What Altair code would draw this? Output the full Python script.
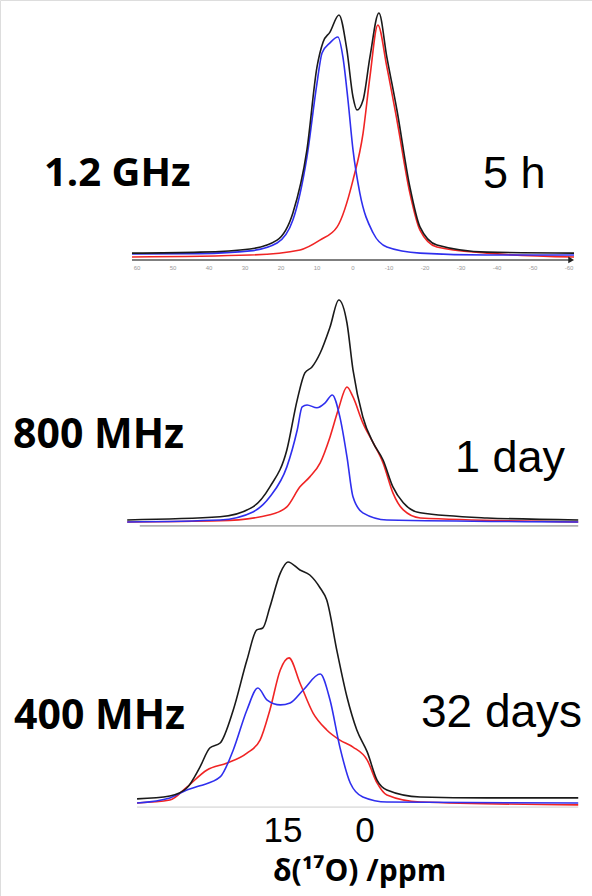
import altair as alt
import pandas as pd

# ---------------- data (ppm, relative intensity) ----------------
# Top panel (1.2 GHz, 5 h) - its own ppm axis
top_black_ppm = [61.4, 42.5, 28.6, 21.1, 16.7, 12.8, 10.0, 8.3, 6.4, 3.9, 1.7, 0.0, -1.1, -2.8, -4.7, -7.2, -9.4, -12.2, -15.8, -18.6, -23.3, -37.2, -61.4]
top_black_int = [2.0, 2.4, 3.7, 7.3, 18.4, 44.1, 78.0, 88.2, 92.2, 99.2, 84.9, 65.7, 60.4, 64.5, 82.0, 100.0, 82.0, 60.4, 29.0, 12.7, 5.3, 2.4, 2.0]
top_blue_ppm = [61.4, 42.5, 28.6, 21.1, 16.7, 12.8, 10.0, 8.6, 6.4, 4.2, 2.8, 1.4, 0.0, -1.9, -5.6, -9.4, -18.6, -37.2, -61.4]
top_blue_int = [1.6, 1.8, 2.9, 6.1, 15.5, 41.2, 71.4, 83.7, 87.8, 90.2, 82.0, 64.5, 44.1, 26.5, 10.2, 4.5, 2.0, 1.2, 1.2]
top_red_ppm = [61.4, 28.6, 14.7, 9.2, 4.4, 0.0, -2.8, -4.7, -6.9, -9.4, -12.2, -15.8, -18.6, -23.3, -37.2, -61.4]
top_red_int = [0.4, 1.2, 3.3, 7.3, 12.7, 31.8, 51.0, 73.9, 95.1, 78.0, 56.3, 26.5, 11.4, 4.5, 2.0, 0.4]
top_tick_ppm = [60, 50, 40, 30, 20, 10, 0, -10, -20, -30, -40, -50, -60]

# Middle panel (800 MHz, 1 day)
mid_black_ppm = [43.5, 26.5, 20.5, 17.4, 14.3, 12.4, 11.0, 9.7, 8.2, 6.4, 4.8, 3.3, 2.2, 0.4, -1.5, -3.3, -5.1, -7.0, -10.1, -22.3, -39.0]
mid_black_int = [0.9, 2.3, 6.8, 15.8, 32.4, 55.0, 67.1, 69.8, 76.1, 87.8, 100.0, 89.6, 68.5, 47.3, 35.6, 27.9, 15.8, 8.6, 4.1, 1.8, 0.9]
mid_blue_ppm = [43.5, 26.5, 20.5, 17.4, 14.3, 12.4, 11.5, 10.6, 8.8, 7.3, 6.0, 4.6, 3.3, 2.2, 0.4, -4.0, -39.0]
mid_blue_int = [0.0, 0.9, 4.5, 11.3, 24.8, 41.4, 51.8, 52.7, 51.4, 53.6, 57.2, 47.3, 29.3, 11.3, 4.1, 0.9, 0.0]
mid_red_ppm = [43.5, 26.5, 17.4, 14.3, 11.9, 10.1, 8.2, 6.4, 4.9, 3.3, 2.2, 0.4, -1.5, -3.3, -5.1, -7.0, -10.1, -39.0]
mid_red_int = [0.0, 0.5, 3.2, 6.8, 15.8, 20.3, 26.6, 38.3, 50.5, 60.8, 56.3, 44.6, 35.6, 26.6, 13.1, 5.4, 1.8, 0.0]

# Bottom panel (400 MHz, 32 days)
bot_black_ppm = [41.7, 35.7, 32.6, 30.2, 28.4, 26.5, 24.1, 21.6, 19.8, 18.7, 17.4, 15.5, 14.1, 11.9, 10.1, 8.2, 7.0, 5.1, 3.3, 1.5, -0.4, -2.2, -4.0, -10.1, -22.3, -39.0]
bot_black_int = [1.7, 2.9, 6.2, 14.9, 22.8, 24.9, 38.6, 59.3, 71.8, 72.6, 81.3, 95.4, 100.0, 96.7, 94.6, 89.2, 84.2, 62.7, 44.0, 30.3, 21.2, 9.5, 5.4, 2.5, 2.1, 2.1]
bot_blue_ppm = [41.7, 35.7, 32.6, 30.2, 26.5, 24.1, 21.6, 19.6, 17.9, 15.5, 13.7, 11.3, 8.2, 6.4, 4.6, 2.7, 0.4, -4.0, -39.0]
bot_blue_int = [0.0, 2.1, 5.4, 7.1, 10.8, 22.0, 38.6, 47.7, 42.7, 40.7, 41.5, 46.9, 53.5, 42.7, 23.2, 8.3, 2.5, 0.4, 0.0]
bot_red_ppm = [41.7, 35.7, 32.6, 28.9, 25.2, 21.6, 19.2, 17.4, 15.5, 13.9, 11.9, 9.5, 7.0, 4.6, 2.2, -0.4, -2.2, -4.0, -10.1, -39.0]
bot_red_int = [0.0, 1.2, 6.6, 13.7, 16.6, 20.7, 26.1, 38.6, 55.2, 60.2, 49.8, 37.3, 30.3, 26.1, 23.2, 17.8, 8.3, 3.3, 0.4, -0.8]

bottom_tick_ppm = [15.0, 0.0]
bottom_tick_labels = ["15", "0"]

COLORS = {"total": "#1a1a1a", "blue": "#2f2fee", "red": "#f02424"}
W, H = 592, 896


def frame(pairs):
    rows = []
    for name, xs, ys in pairs:
        for x, y in zip(xs, ys):
            rows.append({"ppm": x, "I": y, "s": name})
    return pd.DataFrame(rows)


def panel(df, xdom, ydom, axis_df, axis_color, axis_width):
    xs = alt.Scale(domain=xdom, nice=False, zero=False)
    ys = alt.Scale(domain=ydom, nice=False, zero=False)
    lines = alt.Chart(df).mark_line(strokeWidth=1.6, interpolate="monotone").encode(
        x=alt.X("ppm:Q", scale=xs, axis=None),
        y=alt.Y("I:Q", scale=ys, axis=None),
        color=alt.Color("s:N", scale=alt.Scale(domain=list(COLORS.keys()), range=list(COLORS.values())), legend=None),
        order=alt.Order("ppm:Q", sort="descending"),
    )
    rule = alt.Chart(axis_df).mark_rule(color=axis_color, strokeWidth=axis_width).encode(
        x=alt.X("x0:Q", scale=xs, axis=None), x2="x1:Q",
        y=alt.Y("y:Q", scale=ys, axis=None),
    )
    return [rule, lines]


top_df = frame([("red", top_red_ppm, top_red_int), ("blue", top_blue_ppm, top_blue_int), ("total", top_black_ppm, top_black_int)])
mid_df = frame([("red", mid_red_ppm, mid_red_int), ("blue", mid_blue_ppm, mid_blue_int), ("total", mid_black_ppm, mid_black_int)])
bot_df = frame([("red", bot_red_ppm, bot_red_int), ("blue", bot_blue_ppm, bot_blue_int), ("total", bot_black_ppm, bot_black_int)])

top_xdom = [98.06, -66.39]
top_ydom = [-260.4, 105.3]
mid_xdom = [66.77, -41.52]
mid_ydom = [-168.5, 235.1]
bot_xdom = [66.77, -41.52]
bot_ydom = [-38.6, 333.2]

top_layers = panel(top_df, top_xdom, top_ydom, pd.DataFrame([{"x0": 61.4, "x1": -60.0, "y": -0.8}]), "#555555", 1.5)
top_xs = alt.Scale(domain=top_xdom, nice=False, zero=False)
top_ys = alt.Scale(domain=top_ydom, nice=False, zero=False)
arrow = alt.Chart(pd.DataFrame([{"ppm": -60.6, "I": -0.8}])).mark_point(
    shape="triangle-right", filled=True, color="#222222", size=45, opacity=1
).encode(x=alt.X("ppm:Q", scale=top_xs, axis=None), y=alt.Y("I:Q", scale=top_ys, axis=None))
ticks = alt.Chart(pd.DataFrame({"ppm": top_tick_ppm, "lab": [str(v) for v in top_tick_ppm]})).mark_text(
    fontSize=6, color="#999999", font="Liberation Sans"
).encode(x=alt.X("ppm:Q", scale=top_xs, axis=None), y=alt.value(268), text="lab:N")
top_panel = alt.layer(*top_layers, arrow, ticks)

mid_panel = alt.layer(*panel(mid_df, mid_xdom, mid_ydom, pd.DataFrame([{"x0": 41.2, "x1": -39.0, "y": -1.8}]), "#777777", 1.0))
bot_panel_layers = panel(bot_df, bot_xdom, bot_ydom, pd.DataFrame([{"x0": 41.7, "x1": -39.0, "y": -1.7}]), "#cccccc", 1.0)
bot_xs = alt.Scale(domain=bot_xdom, nice=False, zero=False)
bot_lab = alt.Chart(pd.DataFrame({"ppm": bottom_tick_ppm, "lab": bottom_tick_labels})).mark_text(
    fontSize=35, font="Liberation Sans", color="black", baseline="alphabetic"
).encode(x=alt.X("ppm:Q", scale=bot_xs, axis=None), y=alt.value(842), text="lab:N")
bot_panel = alt.layer(*bot_panel_layers, bot_lab)


def label(txt, x, y, size, bold, font):
    return alt.Chart(pd.DataFrame([{"t": txt}])).mark_text(
        align="left", baseline="alphabetic", fontSize=size,
        fontWeight="bold" if bold else "normal", font=font, color="black"
    ).encode(x=alt.value(x), y=alt.value(y), text="t:N")


texts = [
    label("1.2 GHz", 44, 186, 40, True, "Open Sans"),
    label("5 h", 483, 188, 45, False, "Liberation Sans"),
    label("800 MHz", 13, 448, 41, True, "Open Sans"),
    label("1 day", 455, 472, 45, False, "Liberation Sans"),
    label("400 MHz", 14, 729, 41, True, "Open Sans"),
    label("32 days", 421, 727, 46, False, "Liberation Sans"),
    label("δ(¹⁷O) /ppm", 273, 881, 30, True, "Open Sans"),
]

chart = alt.layer(top_panel, mid_panel, bot_panel, *texts).resolve_scale(
    x="independent", y="independent"
).properties(
    width=W, height=H, padding=0, autosize=alt.AutoSizeParams(type="none")
).configure_view(stroke=None).configure(background="white")

chart.save("out.html", embed_options={"renderer": "svg", "actions": False})
